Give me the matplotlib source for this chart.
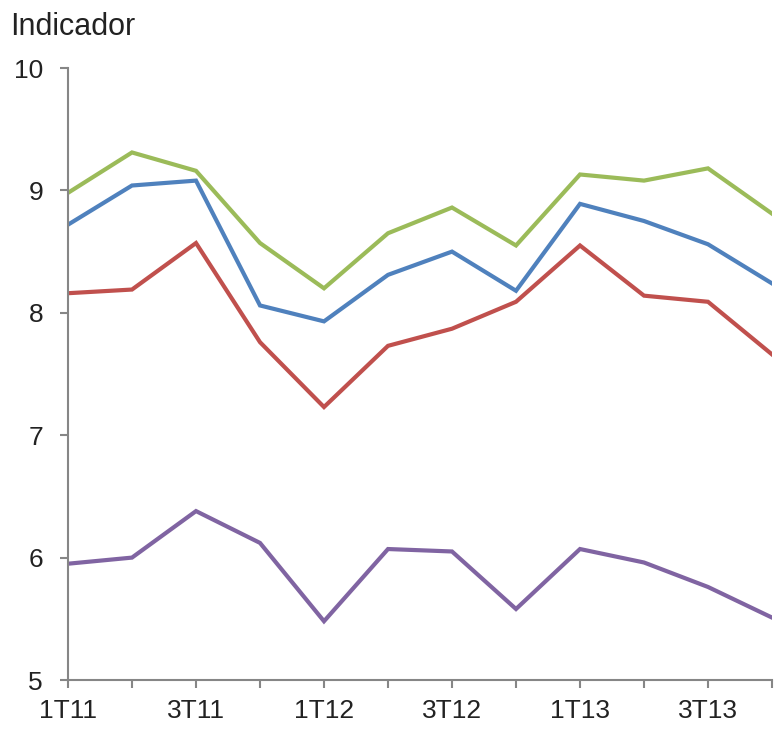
import matplotlib
matplotlib.use("Agg")
import matplotlib.pyplot as plt

plt.rcParams['font.family'] = ['Liberation Sans', 'DejaVu Sans']

quarters = ["1T11", "2T11", "3T11", "4T11", "1T12", "2T12", "3T12", "4T12",
            "1T13", "2T13", "3T13", "4T13"]
shown_labels = ["1T11", "", "3T11", "", "1T12", "", "3T12", "", "1T13", "", "3T13", ""]

green = [8.98, 9.31, 9.16, 8.57, 8.20, 8.65, 8.86, 8.55, 9.13, 9.08, 9.18, 8.81]
blue = [8.72, 9.04, 9.08, 8.06, 7.93, 8.31, 8.50, 8.18, 8.89, 8.75, 8.56, 8.24]
red = [8.16, 8.19, 8.57, 7.76, 7.23, 7.73, 7.87, 8.09, 8.55, 8.14, 8.09, 7.66]
purple = [5.95, 6.00, 6.38, 6.12, 5.48, 6.07, 6.05, 5.58, 6.07, 5.96, 5.76, 5.51]

yticks = [5, 6, 7, 8, 9, 10]

fig = plt.figure(figsize=(7.75, 7.45), dpi=100)
ax = fig.add_axes([68/775, 65/745, 704/775, 612/745])

x = list(range(len(quarters)))
lw = 3.0
ax.plot(x, purple, color="#8064A2", lw=lw, solid_joinstyle="miter")
ax.plot(x, red, color="#C0504D", lw=lw, solid_joinstyle="miter")
ax.plot(x, blue, color="#4F81BD", lw=lw, solid_joinstyle="miter")
ax.plot(x, green, color="#9BBB59", lw=lw, solid_joinstyle="miter")

ax.set_xlim(0, len(quarters) - 1)
ax.set_ylim(5, 10)
ax.set_xticks(x)
ax.set_xticklabels(shown_labels)
ax.set_yticks(yticks)
ax.set_yticklabels([str(v) for v in yticks])

for s in ["top", "right"]:
    ax.spines[s].set_visible(False)
for s in ["left", "bottom"]:
    ax.spines[s].set_color("#868686")
    ax.spines[s].set_linewidth(1.5)

ax.tick_params(axis="both", direction="out", length=6, width=1.5, color="#868686",
               labelsize=19, labelcolor="#222222")
ax.tick_params(axis="x", pad=8)
ax.tick_params(axis="y", pad=12)
ax.patch.set_visible(False)

fig.text(10/775, 1 - 27/745, "Indicador", fontsize=22, color="#222222",
         ha="left", va="center")

fig.savefig("out.png", dpi=100)
